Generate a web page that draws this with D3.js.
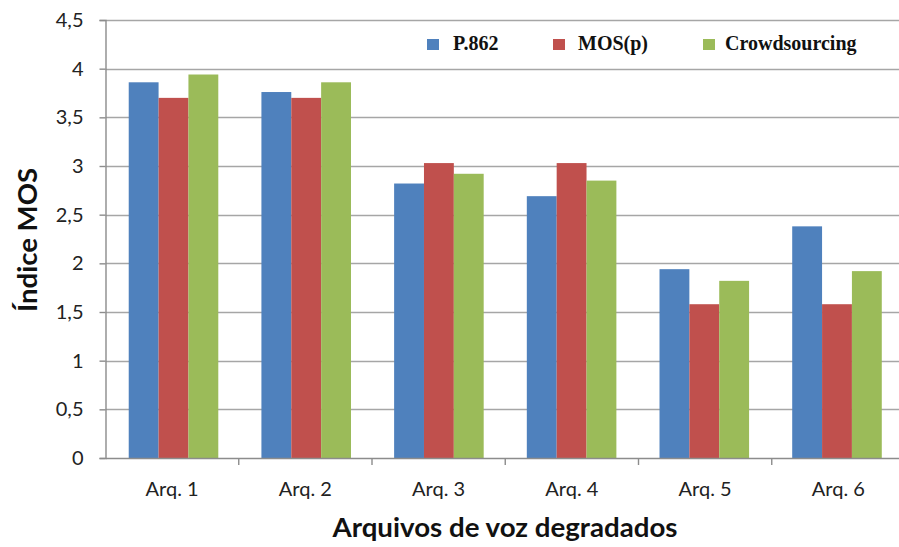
<!DOCTYPE html>
<html><head><meta charset="utf-8">
<script src="https://cdn.jsdelivr.net/npm/d3@7"></script>
<style>body{margin:0;background:#fff}svg{display:block}</style>
</head><body>
<svg id="chart" width="899" height="547"></svg>
<script>
const categories = ["Arq. 1","Arq. 2","Arq. 3","Arq. 4","Arq. 5","Arq. 6"];
const seriesNames = ["P.862","MOS(p)","Crowdsourcing"];
const p862 = [3.86, 3.76, 2.82, 2.69, 1.94, 2.38];
const mosp = [3.70, 3.70, 3.03, 3.03, 1.58, 1.58];
const crowd = [3.94, 3.86, 2.92, 2.85, 1.82, 1.92];
const yTicks = [0,0.5,1,1.5,2,2.5,3,3.5,4,4.5];
const colors = ["#4F81BD","#C0504D","#9BBB59"];
const values = [p862, mosp, crowd];

(function(){
const svg = d3.select("#chart");
const mLeft = 105.5, mRight = 905, mTop = 20, mBottom = 458;
const sans = "Lato, 'Open Sans', sans-serif";

const y = d3.scaleLinear().domain([0,4.5]).range([mBottom, mTop]);
const x0 = d3.scaleBand().domain(categories).range([mLeft, mRight]).paddingInner(0.325).paddingOuter(0.175);
const x1 = d3.scaleBand().domain(seriesNames).range([0, x0.bandwidth()]);
const xb = d3.scaleBand().domain(categories).range([mLeft, mRight]);

// gridlines
svg.append("g").selectAll("line").data(yTicks.filter(d=>d>0)).join("line")
  .attr("x1", mLeft).attr("x2", mRight)
  .attr("y1", d=>Math.round(y(d))+0.5).attr("y2", d=>Math.round(y(d))+0.5)
  .attr("stroke","#a6a6a6").attr("stroke-width",1.4);

// bars
const rows = categories.map((c,i)=>({c, vals: seriesNames.map((s,j)=>({s, v: values[j][i], col: colors[j]}))}));
svg.append("g").selectAll("g").data(rows).join("g")
  .attr("transform", d=>`translate(${x0(d.c)},0)`)
  .selectAll("rect").data(d=>d.vals).join("rect")
  .attr("x", d=>x1(d.s)).attr("width", x1.bandwidth())
  .attr("y", d=>y(d.v)).attr("height", d=>y(0)-y(d.v))
  .attr("fill", d=>d.col);

// y axis
const yAxis = d3.axisLeft(y).tickValues(yTicks).tickSize(6).tickPadding(16)
  .tickFormat(d=>String(d).replace(".", ","));
const ga = svg.append("g").attr("transform",`translate(${mLeft},0)`).call(yAxis);
ga.select(".domain").attr("stroke","#8c8c8c").attr("stroke-width",1.4);
ga.selectAll(".tick line").attr("stroke","#8c8c8c").attr("stroke-width",1.4);
ga.selectAll("text").attr("font-family",sans).attr("font-size",20).attr("fill","#222");

// x axis
const xAxis = d3.axisBottom(xb).tickSize(0).tickPadding(24);
const gx = svg.append("g").attr("transform",`translate(0,${mBottom})`).call(xAxis);
gx.select(".domain").attr("stroke","#8c8c8c").attr("stroke-width",1.4);
gx.selectAll("text").attr("font-family",sans).attr("font-size",20).attr("fill","#222");
// category boundary ticks
svg.append("g").selectAll("line").data(categories.slice(1)).join("line")
  .attr("x1", d=>xb(d)).attr("x2", d=>xb(d))
  .attr("y1", mBottom).attr("y2", mBottom+7)
  .attr("stroke","#8c8c8c").attr("stroke-width",1.4);

// axis titles
svg.append("text").attr("x", 505).attr("y", 537).attr("text-anchor","middle")
  .attr("font-family",sans).attr("font-weight","bold").attr("font-size",26).attr("fill","#111")
  .attr("textLength",345).attr("lengthAdjust","spacingAndGlyphs")
  .text("Arquivos de voz degradados");
svg.append("text").attr("transform","translate(37,240) rotate(-90)").attr("text-anchor","middle")
  .attr("font-family",sans).attr("font-weight","bold").attr("font-size",26).attr("fill","#111")
  .attr("textLength",144).attr("lengthAdjust","spacingAndGlyphs")
  .text("Índice MOS");

// legend
const legX = [427, 553, 703];
const lg = svg.append("g").selectAll("g").data(seriesNames).join("g")
  .attr("transform",(d,i)=>`translate(${legX[i]},39)`);
lg.append("rect").attr("width",12).attr("height",11).attr("fill",(d,i)=>colors[i]);
lg.append("text").attr("x",(d,i)=>[26,25,22][i]).attr("y",11)
  .attr("font-family","'Liberation Serif', 'Times New Roman', serif").attr("font-weight","bold")
  .attr("font-size",20).attr("fill","#111").text(d=>d);
})();
</script>
</body></html>
